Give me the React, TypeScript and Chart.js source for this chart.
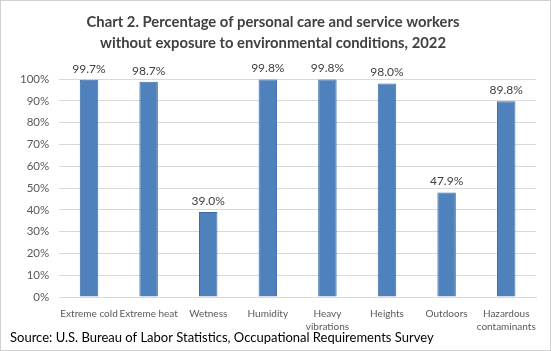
import React, { useEffect, useRef } from "react";
import { Chart, registerables } from "chart.js";

Chart.register(...registerables);

const categories: (string | string[])[] = [
  "Extreme cold",
  "Extreme heat",
  "Wetness",
  "Humidity",
  ["Heavy", "vibrations"],
  "Heights",
  "Outdoors",
  ["Hazardous", "contaminants"],
];
const values = [99.7, 98.7, 39.0, 99.8, 99.8, 98.0, 47.9, 89.8];
const titleLines = [
  "Chart 2. Percentage of personal care and service workers",
  "without exposure to environmental conditions, 2022",
];
const sourceText = "Source: U.S. Bureau of Labor Statistics, Occupational Requirements Survey";

const FONT = "Lato, 'Open Sans', sans-serif";

const labelPlugin = {
  id: "barLabels",
  afterDatasetsDraw(chart: any) {
    const { ctx } = chart;
    const meta = chart.getDatasetMeta(0);
    ctx.save();
    ctx.font = `12px ${FONT}`;
    ctx.fillStyle = "#404040";
    ctx.textAlign = "center";
    ctx.textBaseline = "bottom";
    meta.data.forEach((bar: any, i: number) => {
      ctx.fillText(values[i].toFixed(1) + "%", bar.x, bar.y - 5);
    });
    ctx.restore();
  },
};

const sourcePlugin = {
  id: "sourceText",
  afterDraw(chart: any) {
    const { ctx } = chart;
    ctx.save();
    ctx.font = `13px ${FONT}`;
    ctx.fillStyle = "#000000";
    ctx.textAlign = "left";
    ctx.textBaseline = "middle";
    ctx.fillText(sourceText, 9, chart.height - 12);
    ctx.restore();
  },
};

export default function App() {
  const ref = useRef<HTMLCanvasElement>(null);
  useEffect(() => {
    if (!ref.current) return;
    const chart = new Chart(ref.current, {
      type: "bar",
      data: {
        labels: categories,
        datasets: [
          {
            data: values,
            backgroundColor: "#4F81BD",
            borderColor: "#3B6DAA",
            borderWidth: 1,
            categoryPercentage: 1,
            barPercentage: 0.31,
          },
        ],
      },
      options: {
        responsive: false,
        animation: false,
        layout: { padding: { left: 9, right: 14, top: 0, bottom: 7 } },
        plugins: {
          legend: { display: false },
          tooltip: { enabled: false },
          title: {
            display: true,
            text: titleLines,
            color: "#404040",
            font: { family: FONT, size: 14.8, weight: "bold", lineHeight: 1.42 },
            padding: { top: 11, bottom: 25 },
          },
        },
        scales: {
          y: {
            min: 0,
            max: 100,
            ticks: {
              stepSize: 10,
              callback: (v: any) => v + "%",
              color: "#595959",
              font: { family: FONT, size: 11.5 },
              padding: 10,
            },
            grid: { color: "#D9D9D9", drawTicks: false },
            border: { display: false },
          },
          x: {
            ticks: {
              color: "#595959",
              font: { family: FONT, size: 10, lineHeight: 1.3 },
              maxRotation: 0,
              autoSkip: false,
              padding: 10,
            },
            grid: { display: false, drawTicks: false },
            border: { color: "#D9D9D9" },
          },
        },
      },
      plugins: [labelPlugin, sourcePlugin],
    });
    return () => chart.destroy();
  }, []);
  return (
    <div
      style={{
        position: "absolute",
        left: 0,
        top: 0,
        width: 551,
        height: 351,
        boxSizing: "border-box",
        border: "1px solid #D0D0D0",
        background: "#fff",
      }}
    >
      <canvas ref={ref} width={549} height={349} />
    </div>
  );
}
